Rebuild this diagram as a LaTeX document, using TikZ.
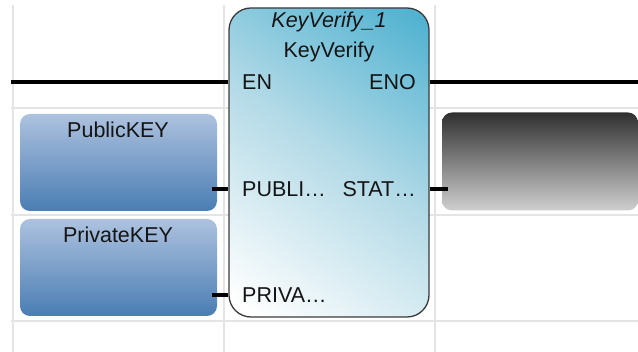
\documentclass[tikz,border=0pt]{standalone}
\usepackage{fontspec}
\setmainfont{Liberation Sans}
\usetikzlibrary{shadings}
\definecolor{fbTR}{HTML}{52B3D1}
\definecolor{fbMid}{HTML}{B3DAE7}
\definecolor{fbBL}{HTML}{FFFFFF}
\pgfdeclareverticalshading{fbshade}{100bp}{color(0bp)=(fbBL); color(18bp)=(fbBL); color(52bp)=(fbMid); color(82bp)=(fbTR); color(100bp)=(fbTR)}
\begin{document}
\begin{tikzpicture}[x=1pt,y=-1pt,
  grid/.style={draw=gridc,line width=2pt},
  rail/.style={draw=black,line width=4.5pt},
  stub/.style={draw=black,line width=4.5pt},
  lbl/.style={inner sep=0pt,text=txt,font=\fontsize{21.5}{23}\selectfont},
  varbox/.style={rounded corners=10pt,inner sep=0pt,minimum width=197pt,minimum height=97pt,draw=none,
    top color=varTop,bottom color=varBot},
  outbox/.style={rounded corners=10pt,inner sep=0pt,minimum width=196pt,minimum height=98pt,draw=none,
    top color=outTop,bottom color=outBot},
  fb/.style={rounded corners=22pt,inner sep=0pt,minimum width=200pt,minimum height=309pt,draw=fbLine,line width=1.3pt,
    shading=fbshade,shading angle=-35}]
\definecolor{gridc}{HTML}{E4E4E4}
\definecolor{txt}{HTML}{151515}
\definecolor{varTop}{HTML}{ADC2DF}
\definecolor{varBot}{HTML}{4A7DB3}
\definecolor{outTop}{HTML}{303030}
\definecolor{outBot}{HTML}{CFCFCF}
\definecolor{fbLine}{HTML}{3A3A3A}
\useasboundingbox (0,0) rectangle (638,352);
% grid
\draw[grid] (13,5) -- (13,352);
\draw[grid] (224,5) -- (224,352);
\draw[grid] (434.5,5) -- (434.5,352);
\draw[grid] (11,108) -- (638,108);
\draw[grid] (11,215) -- (638,215);
\draw[grid] (11,321) -- (638,321);
% boxes
\node[varbox] (pub) at (118.5,162.5) {};
\node[varbox] (priv) at (118.5,267.5) {};
\node[outbox] (out) at (540,161.5) {};
\node[fb] (blk) at (329,162.5) {};
% labels
\node[lbl] (publbl) at (118,130) {PublicKEY};
\node[lbl] (privlbl) at (118,235) {PrivateKEY};
\node[lbl,font=\fontsize{21.5}{23}\selectfont\itshape] (inst) at (329,22) {KeyVerify\_1};
\node[lbl] (type) at (329,52) {KeyVerify};
\node[lbl,anchor=west] (en) at (242,82) {EN};
\node[lbl,anchor=east] (eno) at (416,82) {ENO};
\node[lbl,anchor=west] (pubpin) at (242,189) {PUBLI…};
\node[lbl,anchor=east] (statpin) at (416,189) {STAT…};
\node[lbl,anchor=west] (privpin) at (242,295) {PRIVA…};
% connectors
\coordinate (enL) at (11,82);
\coordinate (enoR) at (638,82);
\draw[rail] (enL) -- (blk.west |- enL);
\draw[rail] (blk.east |- enoR) -- (enoR);
\coordinate (pubS) at (212,189);
\coordinate (privS) at (212,295);
\coordinate (statS) at (448,189);
\draw[stub] (pubS) -- (blk.west |- pubS);
\draw[stub] (privS) -- (blk.west |- privS);
\draw[stub] (blk.east |- statS) -- (statS);
\end{tikzpicture}
\end{document}
